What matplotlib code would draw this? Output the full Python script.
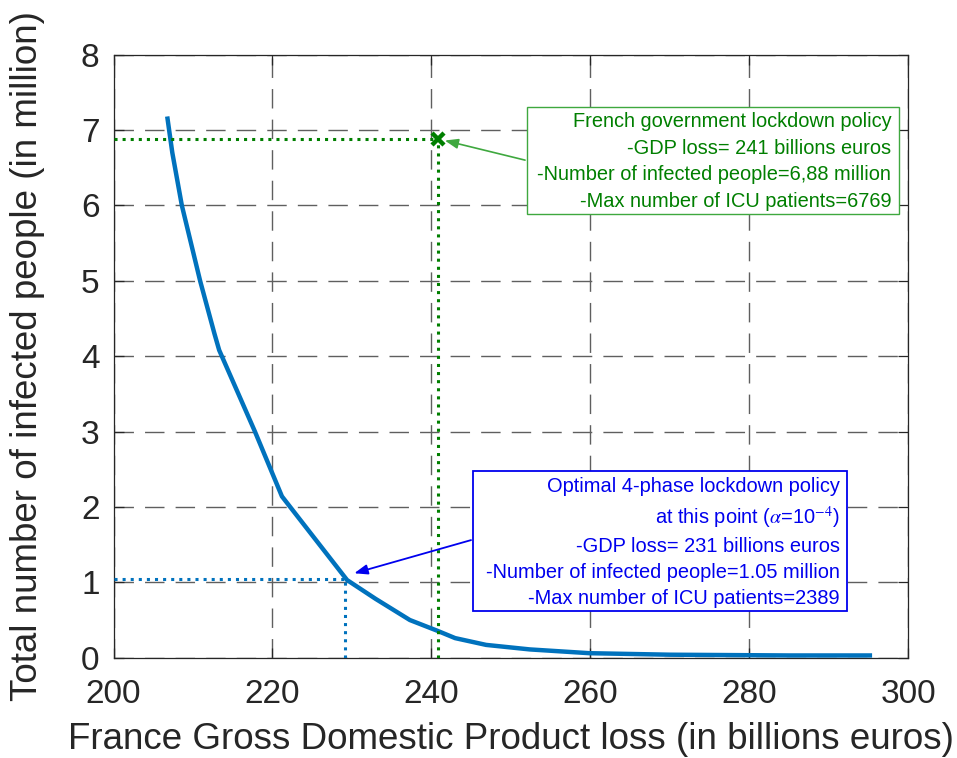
import matplotlib
matplotlib.use("Agg")
import matplotlib.pyplot as plt
from matplotlib.patches import Rectangle

plt.rcParams['font.family'] = ['Liberation Sans', 'DejaVu Sans']
plt.rcParams['mathtext.fontset'] = 'stix'

# Data: Pareto front (GDP loss vs infected)
gdp_loss = [206.8, 207.4, 208.6, 210.9, 212.7, 213.3, 217.8, 221.2, 229.4,
            233.0, 237.3, 240.7, 243.0, 246.9, 252.4, 259.9, 270.0, 285.0, 295.2]
infected = [7.15, 6.70, 6.00, 5.00, 4.30, 4.08, 3.00, 2.14, 1.03,
            0.78, 0.50, 0.36, 0.26, 0.17, 0.11, 0.06, 0.04, 0.03, 0.03]

gov_gdp = 240.8
gov_inf = 6.88
opt_gdp = 229.2
opt_inf = 1.05

xticks = [200, 220, 240, 260, 280, 300]
yticks = [0, 1, 2, 3, 4, 5, 6, 7, 8]

blue = '#0072BD'
green = '#007F00'
tcol = '#262626'

fig = plt.figure(figsize=(9.57, 7.58), dpi=100)
ax = fig.add_axes([0.1186, 0.1323, 0.9488 - 0.1186, 0.928 - 0.1323])

ax.set_xlim(200, 300)
ax.set_ylim(0, 8)
ax.set_xticks(xticks)
ax.set_yticks(yticks)

ax.grid(True, color='#5f5f5f', linestyle=(0, (14, 8)), linewidth=1.0)
ax.set_axisbelow(True)

ax.plot(gdp_loss, infected, color=blue, linewidth=3.2, solid_joinstyle='miter', zorder=3)

# green dotted guide lines
ax.plot([200, gov_gdp], [gov_inf, gov_inf], color=green, linestyle=':', linewidth=2.2, zorder=3)
ax.plot([gov_gdp, gov_gdp], [0, gov_inf], color=green, linestyle=':', linewidth=2.2, zorder=3)
ax.plot([gov_gdp], [gov_inf], marker='x', color=green, markersize=8, markeredgewidth=3.2, zorder=4)

# blue dotted guide lines
ax.plot([200, opt_gdp], [opt_inf, opt_inf], color=blue, linestyle=':', linewidth=2.2, zorder=3)
ax.plot([opt_gdp, opt_gdp], [0, opt_inf], color=blue, linestyle=':', linewidth=2.2, zorder=3)

# Green annotation box
ax.add_patch(Rectangle((252.0, 5.88), 298.9 - 252.0, 7.30 - 5.88, facecolor='white',
                       edgecolor='#3fa83f', linewidth=1.0, zorder=5))
ax.text(297.9, 6.58,
        "French government lockdown policy\n-GDP loss= 241 billions euros\n"
        "-Number of infected people=6,88 million\n-Max number of ICU patients=6769",
        ha='right', va='center', color=green, fontsize=14.4, linespacing=1.5, zorder=6)
ax.annotate("", xy=(241.7, 6.86), xytext=(251.8, 6.60),
            arrowprops=dict(arrowstyle='-|>,head_length=0.8,head_width=0.3', color='#3fa83f',
                            linewidth=1.2, shrinkA=0, shrinkB=0), zorder=6)

# Blue annotation box
ax.add_patch(Rectangle((245.2, 0.62), 292.3 - 245.2, 2.48 - 0.62, facecolor='white',
                       edgecolor='#0000EE', linewidth=1.3, zorder=5))
ax.text(291.4, 1.53,
        "Optimal 4-phase lockdown policy\nat this point ($\\alpha$=10$^{-4}$)\n"
        "-GDP loss= 231 billions euros\n-Number of infected people=1.05 million\n"
        "-Max number of ICU patients=2389",
        ha='right', va='center', color='#0000EE', fontsize=14.4, linespacing=1.45, zorder=6)
ax.annotate("", xy=(230.3, 1.12), xytext=(245.0, 1.56),
            arrowprops=dict(arrowstyle='-|>,head_length=0.8,head_width=0.3', color='#0000EE',
                            linewidth=1.3, shrinkA=0, shrinkB=0), zorder=6)

for s in ax.spines.values():
    s.set_color(tcol)
    s.set_linewidth(0.9)
ax.tick_params(direction='in', length=7, width=0.9, colors=tcol, labelsize=24,
               top=True, right=True)
ax.tick_params(axis='x', pad=15)
ax.tick_params(axis='y', pad=10)

ax.set_xlabel("France Gross Domestic Product loss (in billions euros)", fontsize=26.5,
              color=tcol, labelpad=9)
ax.set_ylabel("Total number of infected people (in million)", fontsize=26.5,
              color=tcol, labelpad=26)

fig.savefig("out.png", dpi=100)
